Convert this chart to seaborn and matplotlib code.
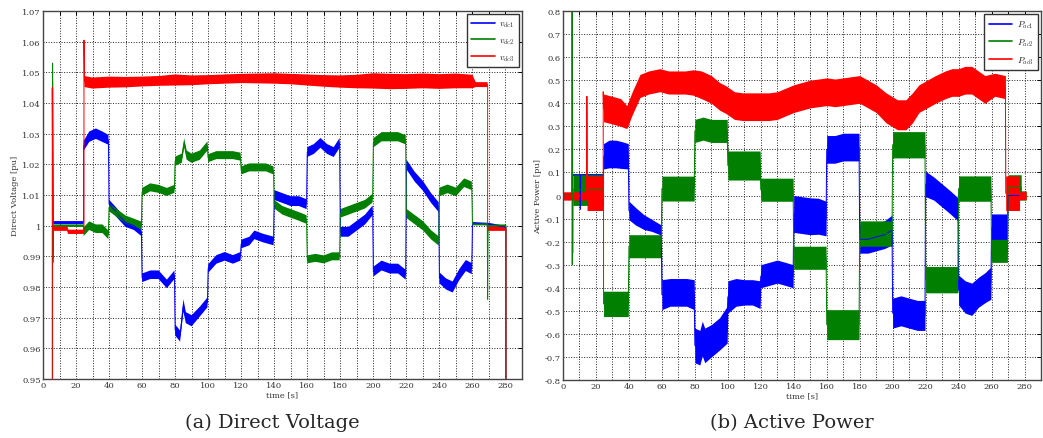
import numpy as np
import matplotlib
matplotlib.use('Agg')
import matplotlib.pyplot as plt
from matplotlib.lines import Line2D
from matplotlib.ticker import MultipleLocator, FixedLocator, FixedFormatter
import seaborn as sns

# ---- (a) direct voltage [pu] : time, band centre, band half-width ----
v1_t = [0, 5.8, 5.8, 6.2, 24.6, 24.6, 28, 32, 36, 39.6,
        40, 45, 50, 55, 59.6,
        60, 65, 70, 75, 79.6,
        80, 83, 85, 86.5, 90, 95, 99.6,
        100, 105, 110, 115, 119.6,
        120, 125, 128, 133, 139.6,
        140, 145, 150, 155, 159.6,
        160, 164, 168, 172, 176, 179.6,
        180, 185, 190, 195, 199.6,
        200, 205, 210, 215, 219.6,
        220, 225, 230, 235, 239.6,
        240, 244, 248, 252, 256, 259.6,
        260, 270, 280.3, 280.3]
v1_mid = [0, 0, 1.047, 1.001, 1.001, 1.026, 1.029, 1.030, 1.029, 1.028,
          1.007, 1.004, 1.001, 1.000, 0.998,
          0.983, 0.984, 0.984, 0.981, 0.984,
          0.966, 0.964, 0.974, 0.970, 0.969, 0.972, 0.975,
          0.986, 0.989, 0.990, 0.989, 0.990,
          0.994, 0.995, 0.997, 0.996, 0.995,
          1.010, 1.009, 1.008, 1.008, 1.007,
          1.024, 1.025, 1.027, 1.025, 1.024, 1.027,
          0.998, 0.998, 1.000, 1.002, 1.005,
          0.985, 0.987, 0.986, 0.986, 0.984,
          1.020, 1.016, 1.013, 1.009, 1.006,
          0.983, 0.981, 0.980, 0.984, 0.987, 0.986,
          1.0008, 1.0005, 0.9995, 0]
v1_half = [0, 0, 0, 0.0005, 0.0005, 0.0016, 0.0017, 0.0017, 0.0017, 0.0016,
           0.0015, 0.0015, 0.0014, 0.0014, 0.0014,
           0.0014, 0.0014, 0.0014, 0.0014, 0.0014,
           0.0018, 0.0018, 0.002, 0.0018, 0.0018, 0.0016, 0.0016,
           0.0014, 0.0014, 0.0014, 0.0014, 0.0014,
           0.0014, 0.0014, 0.0014, 0.0014, 0.0014,
           0.0016, 0.0016, 0.0016, 0.0016, 0.0016,
           0.0016, 0.0016, 0.0016, 0.0016, 0.0016, 0.0016,
           0.0016, 0.0016, 0.0016, 0.0016, 0.0016,
           0.0016, 0.0016, 0.0016, 0.0016, 0.0016,
           0.0016, 0.0016, 0.0016, 0.0016, 0.0016,
           0.0018, 0.0018, 0.0018, 0.0018, 0.0018, 0.0018,
           0.0004, 0.0004, 0.0004, 0]

v2_t = [0, 5.8, 5.8, 6.0, 6.3, 24.6, 24.6, 28, 32, 36, 39.6,
        40, 45, 50, 55, 59.6,
        60, 65, 70, 75, 79.6,
        80, 84, 85.5, 87, 90, 95, 99.6,
        100, 105, 110, 115, 119.6,
        120, 125, 130, 135, 139.6,
        140, 145, 150, 155, 159.6,
        160, 165, 170, 175, 179.6,
        180, 185, 190, 195, 199.6,
        200, 205, 210, 215, 219.6,
        220, 225, 230, 235, 239.6,
        240, 245, 250, 255, 259.6,
        260, 269, 269.2, 269.5, 280.3, 280.3]
v2_mid = [0, 0, 1.053, 0.988, 1.0, 1.0, 0.998, 1.000, 0.999, 0.999, 0.997,
          1.006, 1.004, 1.002, 1.001, 1.000,
          1.011, 1.0125, 1.012, 1.011, 1.012,
          1.021, 1.022, 1.027, 1.023, 1.022, 1.023, 1.026,
          1.022, 1.023, 1.023, 1.023, 1.0225,
          1.018, 1.019, 1.019, 1.019, 1.018,
          1.007, 1.005, 1.004, 1.003, 1.002,
          0.989, 0.9895, 0.989, 0.990, 0.990,
          1.004, 1.005, 1.006, 1.007, 1.009,
          1.027, 1.029, 1.029, 1.029, 1.028,
          1.004, 1.002, 1.000, 0.997, 0.995,
          1.011, 1.012, 1.011, 1.014, 1.013,
          1.0005, 1.0005, 0.976, 1.0, 1.0, 0]
v2_half = [0, 0, 0, 0, 0.0004, 0.0004, 0.0014, 0.0014, 0.0014, 0.0014, 0.0014,
           0.0013, 0.0013, 0.0013, 0.0013, 0.0013,
           0.0013, 0.0013, 0.0013, 0.0013, 0.0013,
           0.0015, 0.0015, 0.0015, 0.0015, 0.0015, 0.0015, 0.0015,
           0.0013, 0.0013, 0.0013, 0.0013, 0.0013,
           0.0013, 0.0013, 0.0013, 0.0013, 0.0013,
           0.0014, 0.0014, 0.0014, 0.0014, 0.0014,
           0.0013, 0.0013, 0.0013, 0.0013, 0.0013,
           0.0014, 0.0014, 0.0014, 0.0014, 0.0014,
           0.0015, 0.0015, 0.0015, 0.0015, 0.0015,
           0.0015, 0.0015, 0.0015, 0.0015, 0.0015,
           0.0014, 0.0014, 0.0014, 0.0014, 0.0014,
           0.0004, 0.0004, 0, 0.0004, 0.0004, 0]

v3_t = [0, 5.6, 5.6, 6.0, 15, 15, 24.8, 24.8, 25.1,
        30, 40, 50, 60, 70, 80, 90, 100, 110, 120, 130, 140,
        150, 160, 170, 180, 190, 200, 210, 220, 230, 240, 250, 260,
        262, 269.2, 269.2, 280.3, 280.3]
v3_mid = [0, 0, 1.045, 0.999, 0.999, 0.998, 0.998, 1.0605, 1.047,
          1.0465, 1.0468, 1.0468, 1.047, 1.0472, 1.0475, 1.0474, 1.0476, 1.0478, 1.048, 1.048, 1.048,
          1.0478, 1.0475, 1.0472, 1.047, 1.047, 1.0472, 1.047, 1.047, 1.0472, 1.047, 1.0472, 1.047,
          1.046, 1.046, 0.999, 0.999, 0]
v3_half = [0, 0, 0, 0.0007, 0.0007, 0.0007, 0.0007, 0, 0.0018,
           0.0018, 0.0018, 0.0017, 0.0016, 0.0016, 0.0018, 0.0016, 0.0015, 0.0015, 0.0015, 0.0016, 0.0017,
           0.0017, 0.0018, 0.0019, 0.002, 0.0022, 0.0025, 0.0025, 0.0024, 0.0024, 0.0024, 0.0024, 0.0022,
           0.0008, 0.0008, 0.0007, 0.0007, 0]

# ---- (b) active power [pu] ----
p1_t = [0, 5.6, 5.6, 10.3, 10.5, 10.7, 24.6, 24.6, 28, 32, 36, 39.6,
        40, 44, 49, 54, 59.6,
        60, 65, 70, 75, 79.6,
        80, 83, 84.5, 86, 90, 95, 99.6,
        100, 105, 110, 115, 119.6,
        120, 125, 130, 135, 139.6,
        140, 145, 150, 155, 159.6,
        160, 165, 170, 175, 179.6,
        180, 185, 190, 195, 199.6,
        200, 205, 210, 215, 219.6,
        220, 225, 230, 235, 239.6,
        240, 244, 248, 252, 256, 259.6,
        260, 265, 269.6,
        270, 280.3]
p1_mid = [0, 0, 0.09, 0.09, -0.06, 0.09, 0.09, 0.17, 0.18, 0.18, 0.175, 0.17,
          -0.065, -0.09, -0.115, -0.13, -0.15,
          -0.43, -0.42, -0.42, -0.42, -0.43,
          -0.65, -0.66, -0.62, -0.65, -0.63, -0.60, -0.56,
          -0.44, -0.42, -0.42, -0.42, -0.43,
          -0.35, -0.34, -0.33, -0.34, -0.35,
          -0.08, -0.085, -0.09, -0.09, -0.10,
          0.20, 0.20, 0.21, 0.21, 0.21,
          -0.19, -0.19, -0.18, -0.17, -0.15,
          -0.51, -0.50, -0.51, -0.52, -0.52,
          0.05, 0.03, 0.0, -0.03, -0.06,
          -0.41, -0.44, -0.45, -0.42, -0.40, -0.38,
          -0.14, -0.14, -0.14,
          0.0, 0.0]
p1_half = [0, 0, 0.004, 0.004, 0, 0.004, 0.004, 0.055, 0.06, 0.06, 0.058, 0.055,
           0.04, 0.038, 0.032, 0.026, 0.022,
           0.065, 0.06, 0.06, 0.06, 0.065,
           0.075, 0.075, 0.075, 0.075, 0.07, 0.07, 0.08,
           0.07, 0.06, 0.055, 0.055, 0.06,
           0.05, 0.05, 0.05, 0.05, 0.05,
           0.08, 0.08, 0.08, 0.078, 0.075,
           0.06, 0.06, 0.06, 0.06, 0.06,
           0.06, 0.06, 0.06, 0.06, 0.065,
           0.065, 0.065, 0.065, 0.065, 0.065,
           0.055, 0.05, 0.05, 0.05, 0.05,
           0.065, 0.07, 0.07, 0.065, 0.065, 0.07,
           0.06, 0.06, 0.06,
           0.004, 0.004]

p2_t = [0, 5.5, 5.5, 5.6, 5.8, 5.9, 6.0, 24.6, 24.6, 32, 39.6,
        40, 50, 59.6,
        60, 70, 79.6,
        80, 85, 90, 99.6,
        100, 110, 119.6,
        120, 130, 139.6,
        140, 150, 159.6,
        160, 170, 179.6,
        180, 190, 199.6,
        200, 210, 219.6,
        220, 230, 239.6,
        240, 250, 259.6,
        260, 265, 269.6,
        270, 278, 278, 281]
p2_mid = [0, 0, 0.9, -0.3, 0.47, -0.25, 0.025, 0.025, -0.47, -0.47, -0.47,
          -0.22, -0.22, -0.22,
          0.03, 0.03, 0.03,
          0.28, 0.29, 0.28, 0.28,
          0.13, 0.13, 0.13,
          0.025, 0.025, 0.025,
          -0.27, -0.27, -0.27,
          -0.56, -0.56, -0.56,
          -0.165, -0.165, -0.165,
          0.22, 0.22, 0.22,
          -0.365, -0.365, -0.365,
          0.03, 0.03, 0.03,
          -0.24, -0.24, -0.24,
          0.035, 0.035, 0.0, 0.0]
p2_half = [0, 0, 0, 0, 0, 0, 0.068, 0.068, 0.055, 0.055, 0.055,
           0.05, 0.05, 0.05,
           0.054, 0.054, 0.054,
           0.05, 0.05, 0.05, 0.05,
           0.063, 0.063, 0.063,
           0.05, 0.05, 0.05,
           0.05, 0.05, 0.05,
           0.065, 0.065, 0.065,
           0.055, 0.055, 0.055,
           0.057, 0.057, 0.057,
           0.057, 0.057, 0.057,
           0.055, 0.055, 0.055,
           0.05, 0.05, 0.05,
           0.055, 0.055, 0.02, 0.02]

p3_t = [0, 14.5, 14.5, 14.6, 24.4, 24.4, 24.6,
        30, 35, 38.7, 42, 46.7, 52, 58.8,
        64, 69, 74, 79, 84, 90, 95, 99,
        104, 109, 114, 119, 125, 130, 135, 140,
        145, 150, 155, 160, 165, 170, 175, 180,
        185, 190, 196, 203, 208, 212, 216, 221,
        226, 232, 236, 240, 244, 248, 252, 256,
        262, 268.4, 268.6, 277, 277, 281]
p3_mid = [-0.002, -0.002, 0.43, 0.01, 0.01, 0.45, 0.38,
          0.37, 0.36, 0.34, 0.40, 0.475, 0.49, 0.5,
          0.49, 0.49, 0.49, 0.49, 0.48, 0.46, 0.43, 0.415,
          0.39, 0.385, 0.385, 0.385, 0.385, 0.39, 0.405, 0.42,
          0.43, 0.44, 0.445, 0.45, 0.445, 0.45, 0.455, 0.46,
          0.44, 0.42, 0.38, 0.35, 0.35, 0.38, 0.42, 0.44,
          0.46, 0.48, 0.49, 0.49, 0.5, 0.5, 0.48, 0.46,
          0.48, 0.47, 0.01, 0.01, 0.0, 0.0]
p3_half = [0.018, 0.018, 0, 0.075, 0.075, 0, 0.06,
           0.06, 0.06, 0.05, 0.05, 0.05, 0.05, 0.05,
           0.05, 0.05, 0.05, 0.055, 0.06, 0.06, 0.06, 0.06,
           0.06, 0.06, 0.06, 0.06, 0.06, 0.06, 0.06, 0.06,
           0.06, 0.06, 0.06, 0.06, 0.06, 0.06, 0.06, 0.06,
           0.06, 0.06, 0.065, 0.065, 0.065, 0.065, 0.06, 0.06,
           0.06, 0.06, 0.06, 0.06, 0.06, 0.06, 0.06, 0.06,
           0.05, 0.05, 0.075, 0.075, 0.018, 0.018]

x_ticks = [0, 20, 40, 60, 80, 100, 120, 140, 160, 180, 200, 220, 240, 260, 280]
v_ticks = [0.95, 0.96, 0.97, 0.98, 0.99, 1.0, 1.01, 1.02, 1.03, 1.04, 1.05, 1.06, 1.07]
v_tick_labels = ['0.95', '0.96', '0.97', '0.98', '0.99', '1', '1.01', '1.02', '1.03',
                 '1.04', '1.05', '1.06', '1.07']
p_ticks = [-0.8, -0.7, -0.6, -0.5, -0.4, -0.3, -0.2, -0.1, 0, 0.1, 0.2, 0.3, 0.4, 0.5, 0.6, 0.7, 0.8]
p_tick_labels = ['-0.8', '-0.7', '-0.6', '-0.5', '-0.4', '-0.3', '-0.2', '-0.1', '0',
                 '0.1', '0.2', '0.3', '0.4', '0.5', '0.6', '0.7', '0.8']
v_labels = [r'$v_{dc1}$', r'$v_{dc2}$', r'$v_{dc3}$']
p_labels = [r'$P_{ac1}$', r'$P_{ac2}$', r'$P_{ac3}$']

colors = ['#0000ff', '#007f00', '#ff0000']

sns.set_theme(style='white')
plt.rcParams['font.family'] = ['DejaVu Serif']
plt.rcParams['mathtext.fontset'] = 'cm'

fig = plt.figure(figsize=(10.43, 4.39), dpi=100)
ax1 = fig.add_axes([43 / 1043, 1 - 380 / 439, 479 / 1043, 368 / 439])
ax2 = fig.add_axes([563 / 1043, 1 - 381 / 439, 478 / 1043, 369 / 439])


def draw(ax, t, mid, half, color):
    t = np.array(t)
    mid = np.array(mid)
    half = np.array(half)
    ax.fill_between(t, mid - half, mid + half, color=color, linewidth=0)
    sns.lineplot(x=t, y=mid, ax=ax, color=color, linewidth=0.7,
                 estimator=None, sort=False)


draw(ax1, v1_t, v1_mid, v1_half, colors[0])
draw(ax1, v2_t, v2_mid, v2_half, colors[1])
draw(ax1, v3_t, v3_mid, v3_half, colors[2])
draw(ax2, p1_t, p1_mid, p1_half, colors[0])
draw(ax2, p2_t, p2_mid, p2_half, colors[1])
draw(ax2, p3_t, p3_mid, p3_half, colors[2])

for ax, yt, ytl, ylab, labels in [(ax1, v_ticks, v_tick_labels, 'Direct Voltage [pu]', v_labels),
                                  (ax2, p_ticks, p_tick_labels, 'Active Power [pu]', p_labels)]:
    ax.set_xlim(0, 290)
    ax.set_ylim(yt[0], yt[-1])
    ax.xaxis.set_major_locator(FixedLocator(x_ticks))
    ax.xaxis.set_minor_locator(MultipleLocator(10))
    ax.yaxis.set_major_locator(FixedLocator(yt))
    ax.yaxis.set_major_formatter(FixedFormatter(ytl))
    ax.grid(True, which='both', linestyle=':', color='#222222', linewidth=0.7)
    ax.tick_params(which='both', direction='in', top=True, right=True,
                   length=3, width=0.7, labelsize=6, pad=1.5, colors='black')
    ax.tick_params(axis='both', labelcolor='#333333')
    for s in ax.spines.values():
        s.set_color('#444444')
        s.set_linewidth(1.0)
    ax.set_xlabel('time [s]', fontsize=6, labelpad=1, color='#333333')
    ax.set_ylabel(ylab, fontsize=6, labelpad=2, color='#333333')
    handles = [Line2D([], [], color=c, linewidth=1.2) for c in colors]
    leg = ax.legend(handles, labels, loc='upper right', fontsize=6.5, frameon=True,
                    fancybox=False, edgecolor='#333333', framealpha=1, handlelength=2.6,
                    labelspacing=0.7, borderaxespad=0.35, borderpad=0.5, handletextpad=0.5)
    leg.get_frame().set_linewidth(1.0)

fig.text(272 / 1043, 1 - 423 / 439, '(a) Direct Voltage', ha='center', va='center',
         fontsize=14, family='DejaVu Serif')
fig.text(792 / 1043, 1 - 423 / 439, '(b) Active Power', ha='center', va='center',
         fontsize=14, family='DejaVu Serif')

fig.savefig('out.png', dpi=100)
